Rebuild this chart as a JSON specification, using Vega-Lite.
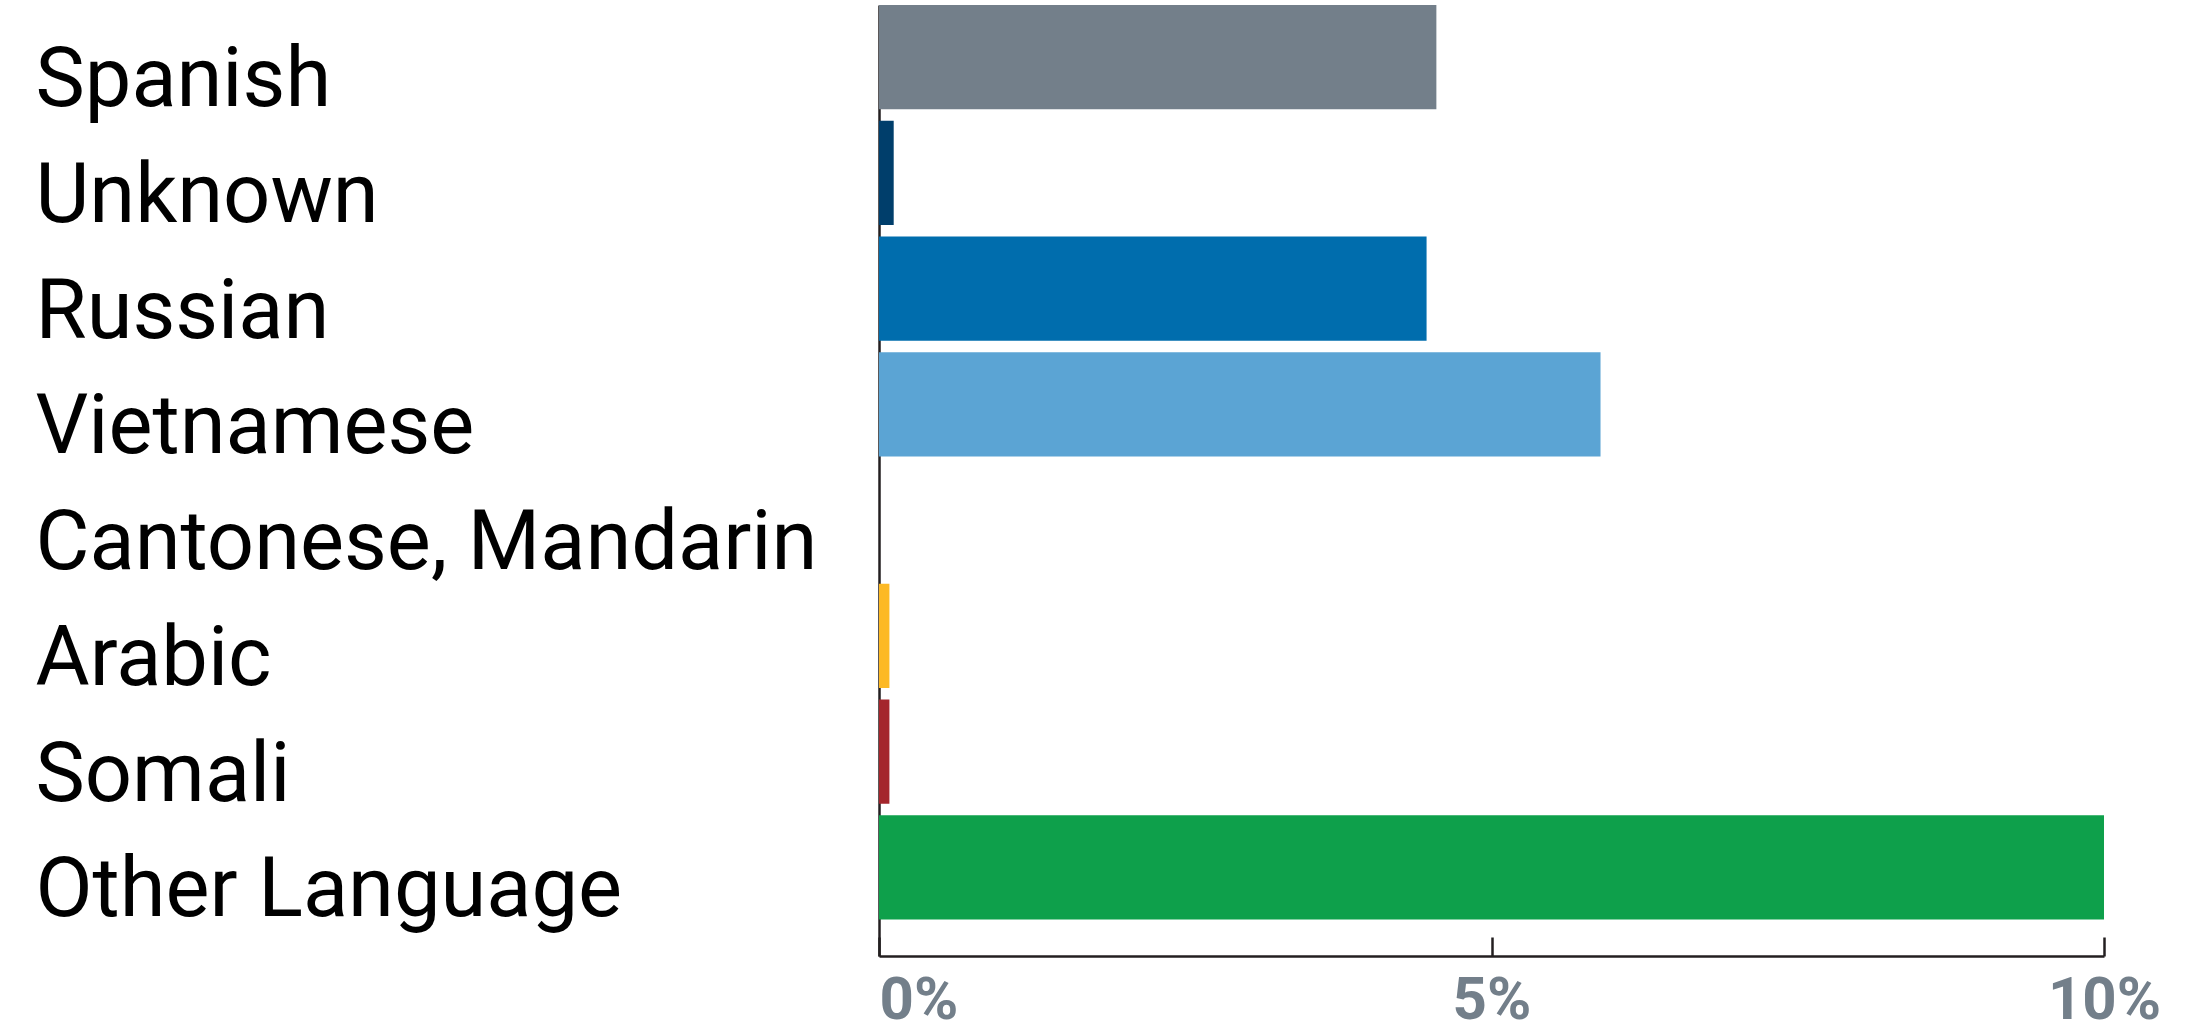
{
  "$schema": "https://vega.github.io/schema/vega-lite/v6.json",
  "width": 1225,
  "height": 951,
  "autosize": {"type": "none"},
  "padding": {"left": 879, "top": 5, "right": 100, "bottom": 76},
  "background": "white",
  "config": {"view": {"stroke": null}},
  "data": {
    "values": [
      {"language": "Spanish", "pct": 4.55},
      {"language": "Unknown", "pct": 0.12},
      {"language": "Russian", "pct": 4.47},
      {"language": "Vietnamese", "pct": 5.89},
      {"language": "Cantonese, Mandarin", "pct": 0},
      {"language": "Arabic", "pct": 0.085},
      {"language": "Somali", "pct": 0.085},
      {"language": "Other Language", "pct": 10.0}
    ]
  },
  "mark": {"type": "bar"},
  "encoding": {
    "y": {
      "field": "language",
      "type": "nominal",
      "sort": null,
      "scale": {"paddingInner": 0.1, "paddingOuter": 0.158, "align": 0},
      "axis": {
        "title": null,
        "domain": true,
        "domainColor": "#231f20",
        "domainWidth": 2.5,
        "ticks": false,
        "tickSize": 0,
        "labelAlign": "left",
        "labelPadding": 844,
        "labelBaseline": "alphabetic",
        "labelOffset": 49,
        "labelFont": "Roboto",
        "labelFontSize": 83,
        "labelColor": "#000000",
        "labelLimit": 0
      }
    },
    "x": {
      "field": "pct",
      "type": "quantitative",
      "scale": {"domain": [0, 10], "nice": false},
      "axis": {
        "title": null,
        "values": [0, 5, 10],
        "labelExpr": "datum.value + '%'",
        "grid": false,
        "domainColor": "#231f20",
        "domainWidth": 2.5,
        "tickColor": "#231f20",
        "tickWidth": 2.5,
        "tickSize": -19,
        "labelPadding": 81,
        "labelBaseline": "alphabetic",
        "labelFont": "Roboto",
        "labelFontWeight": "bold",
        "labelFontSize": 60,
        "labelColor": "#737f8a",
        "labelAlign": {"condition": {"test": "datum.value == 0", "value": "left"}, "value": "center"}
      }
    },
    "color": {
      "field": "language",
      "type": "nominal",
      "legend": null,
      "scale": {
        "domain": ["Spanish", "Unknown", "Russian", "Vietnamese", "Cantonese, Mandarin", "Arabic", "Somali", "Other Language"],
        "range": ["#737f8a", "#003e6b", "#006dad", "#5ba4d4", "#7a4f9e", "#fdb924", "#a4262c", "#0ea04b"]
      }
    }
  }
}
